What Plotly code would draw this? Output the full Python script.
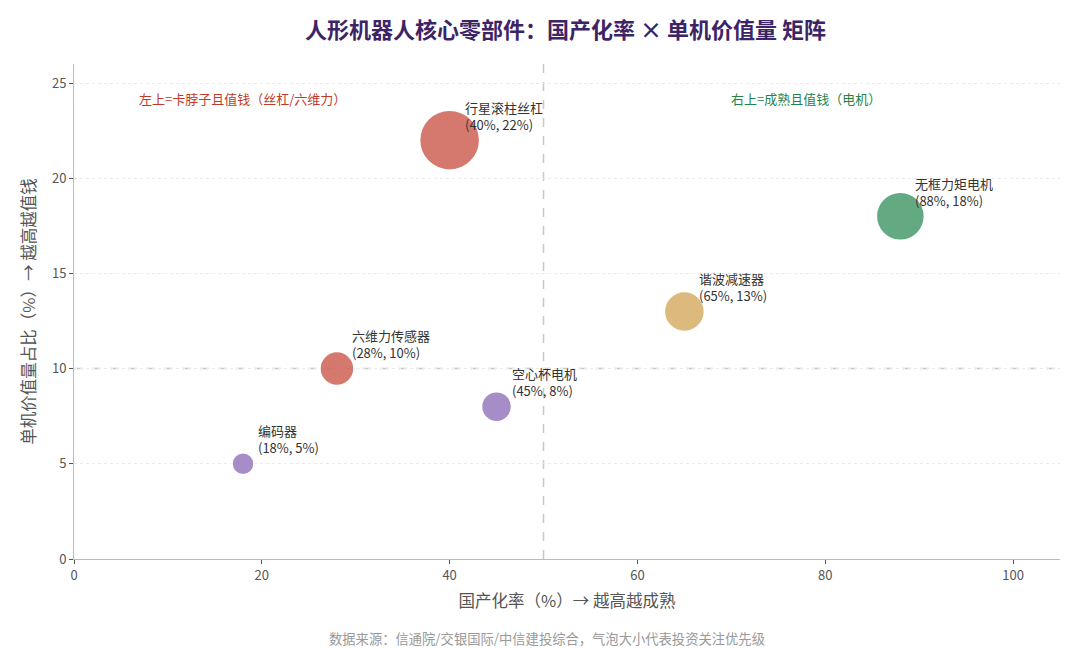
import plotly.graph_objects as go

# 数据
parts = ['行星滚柱丝杠', '无框力矩电机', '谐波减速器', '六维力传感器', '空心杯电机', '编码器']
localization = [40, 88, 65, 28, 45, 18]      # 国产化率 %
value_share = [22, 18, 13, 10, 8, 5]         # 单机价值量占比 %
priority = [60, 48, 40, 34, 30, 22]          # 投资关注优先级（气泡大小）
colors = ['#D0675B', '#4E9F72', '#D8B06A', '#D0675B', '#9B7EC1', '#9B7EC1']

quad_text = ['左上=卡脖子且值钱（丝杠/六维力）', '右上=成熟且值钱（电机）']
quad_x = [6.7, 69.8]
quad_y = [24.2, 24.2]
quad_color = ['#C0392B', '#1E8449']

font = 'Noto Sans CJK SC'

fig = go.Figure()

fig.add_trace(go.Scatter(
    x=localization,
    y=value_share,
    mode='markers',
    marker=dict(size=priority, sizemode='diameter', color=colors, opacity=0.88,
                line=dict(color='white', width=1.5)),
    hoverinfo='text',
    text=parts,
    showlegend=False
))

# 参考线
fig.add_vline(x=50, line=dict(color='#C8C8C8', width=1.5, dash='dash'), layer='below')
fig.add_hline(y=10, line=dict(color='#C8C8C8', width=1.5, dash='dash'), layer='below')

# 气泡标签
for name, x, y in zip(parts, localization, value_share):
    fig.add_annotation(
        x=x, y=y, text=f'{name}<br>({x}%, {y}%)',
        showarrow=False, xanchor='left', yanchor='bottom', align='left',
        xshift=13, yshift=4.5, font=dict(size=13, color='#333333', family=font)
    )

# 象限说明
for t, x, y, c in zip(quad_text, quad_x, quad_y, quad_color):
    fig.add_annotation(x=x, y=y, text=t, showarrow=False, xanchor='left',
                       yanchor='middle', font=dict(size=13, color=c, family=font))

# 数据来源
fig.add_annotation(
    x=0.48, y=0, xref='paper', yref='paper', yshift=-79, yanchor='middle',
    text='数据来源：信通院/交银国际/中信建投综合，气泡大小代表投资关注优先级',
    showarrow=False, font=dict(size=13.3, color='#999999', family=font)
)

# 页面 body 默认有 8px 边距，这里整体缩小补偿
fig.update_layout(
    width=1072, height=640,
    title=dict(text='<b>人形机器人核心零部件：国产化率 × 单机价值量 矩阵</b>',
               x=0.52, xanchor='center', y=1 - 22 / 640, yref='container', yanchor='middle',
               font=dict(size=22, color='#3D2466', family=font)),
    font=dict(family=font, color='#555555'),
    paper_bgcolor='white', plot_bgcolor='white',
    margin=dict(l=66, r=20, t=56, b=89),
    xaxis=dict(
        range=[0, 105], tickvals=[0, 20, 40, 60, 80, 100],
        showgrid=False, zeroline=False, automargin=False,
        showline=True, linecolor='#BBBBBB', linewidth=1,
        ticks='outside', tickcolor='#555555', ticklen=4,
        tickfont=dict(size=13, color='#555555'),
        title=dict(text='国产化率（%）→ 越高越成熟', font=dict(size=16.5, color='#555555'), standoff=12)
    ),
    yaxis=dict(
        range=[0, 26], tickvals=[0, 5, 10, 15, 20, 25],
        showgrid=True, gridcolor='#EAEAEA', griddash='3px,3px', gridwidth=1,
        zeroline=False, automargin=False,
        showline=True, linecolor='#BBBBBB', linewidth=1,
        ticks='outside', tickcolor='#555555', ticklen=4,
        tickfont=dict(size=13, color='#555555'),
        title=dict(text='单机价值量占比（%）→ 越高越值钱', font=dict(size=16.5, color='#555555'), standoff=12)
    )
)

fig.write_html('out.html')
